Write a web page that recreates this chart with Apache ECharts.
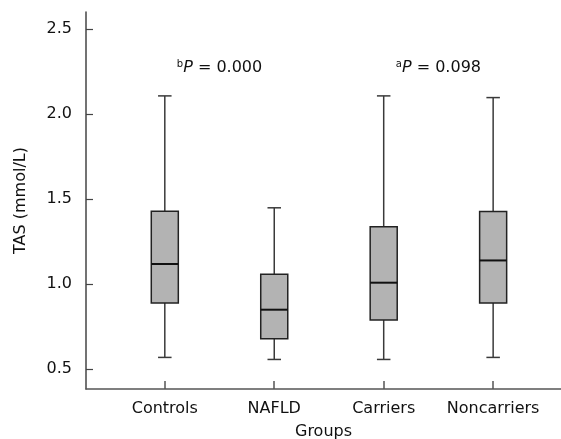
<!DOCTYPE html>
<html>
<head>
<meta charset="utf-8">
<script src="https://cdn.jsdelivr.net/npm/echarts@6/dist/echarts.min.js"></script>
<style>
html,body{margin:0;padding:0;background:#fff;}
#chart{width:561px;height:439px;}
</style>
</head>
<body>
<div id="chart"></div>
<script>
var categories = ['Controls', 'NAFLD', 'Carriers', 'Noncarriers'];
var whiskerLow = [0.568, 0.556, 0.556, 0.568];
var q1Values = [0.888, 0.678, 0.788, 0.888];
var medians = [1.118, 0.849, 1.008, 1.139];
var q3Values = [1.429, 1.057, 1.337, 1.427];
var whiskerHigh = [2.108, 1.449, 2.108, 2.098];
var yTicks = [0.5, 1.0, 1.5, 2.0, 2.5];
var annotations = [
  { x: 0.5, y: 2.272, sup: 'b', text: ' = 0.000' },
  { x: 2.5, y: 2.272, sup: 'a', text: ' = 0.098' }
];

var boxData = categories.map(function (c, i) {
  return [i, whiskerLow[i], q1Values[i], medians[i], q3Values[i], whiskerHigh[i]];
});
var annData = annotations.map(function (a) { return [a.x, a.y]; });

var FONT = 'DejaVu Sans';
var TXT = '#111';
var chart = echarts.init(document.getElementById('chart'), null, { renderer: 'canvas' });

chart.setOption({
  animation: false,
  backgroundColor: '#fff',
  grid: { left: 86, right: 0, top: 12, bottom: 50, containLabel: false, outerBoundsMode: 'none' },
  xAxis: {
    type: 'value',
    min: -0.72,
    max: 3.62,
    name: 'Groups',
    nameLocation: 'middle',
    nameGap: 35,
    nameTextStyle: { fontFamily: FONT, fontSize: 16, color: TXT },
    splitLine: { show: false },
    axisLine: { show: true, onZero: false, lineStyle: { color: '#555', width: 1.5 } },
    axisTick: { show: true, inside: true, length: 8, lineStyle: { color: '#555', width: 1.5 }, customValues: [0, 1, 2, 3] },
    axisLabel: {
      customValues: [0, 1, 2, 3],
      margin: 12,
      fontFamily: FONT, fontSize: 16, color: TXT,
      formatter: function (v) { return categories[Math.round(v)]; }
    }
  },
  yAxis: {
    type: 'value',
    min: 0.382,
    max: 2.602,
    name: 'TAS (mmol/L)',
    nameLocation: 'middle',
    nameGap: 57,
    nameTextStyle: { fontFamily: FONT, fontSize: 16, color: TXT },
    splitLine: { show: false },
    axisLine: { show: true, onZero: false, lineStyle: { color: '#444', width: 1.5 } },
    axisTick: { show: true, inside: true, length: 7, lineStyle: { color: '#444', width: 1.2 }, customValues: yTicks },
    axisLabel: {
      customValues: yTicks,
      margin: 14,
      fontFamily: FONT, fontSize: 16, color: TXT,
      formatter: function (v) { return v.toFixed(1); }
    }
  },
  series: [
    {
      type: 'custom',
      data: boxData,
      renderItem: function (params, api) {
        var x = api.value(0);
        var pMin = api.coord([x, api.value(1)]);
        var pQ1 = api.coord([x, api.value(2)]);
        var pMed = api.coord([x, api.value(3)]);
        var pQ3 = api.coord([x, api.value(4)]);
        var pMax = api.coord([x, api.value(5)]);
        var bw = api.size([1, 0])[0] * 0.247;
        var half = bw / 2, cap = bw / 4;
        var cx = pMin[0];
        var wStyle = { stroke: '#3a3a3a', lineWidth: 1.5 };
        return {
          type: 'group',
          children: [
            { type: 'line', shape: { x1: cx, y1: pMax[1], x2: cx, y2: pQ3[1] }, style: wStyle },
            { type: 'line', shape: { x1: cx, y1: pQ1[1], x2: cx, y2: pMin[1] }, style: wStyle },
            { type: 'line', shape: { x1: cx - cap, y1: pMax[1], x2: cx + cap, y2: pMax[1] }, style: wStyle },
            { type: 'line', shape: { x1: cx - cap, y1: pMin[1], x2: cx + cap, y2: pMin[1] }, style: wStyle },
            { type: 'rect', shape: { x: cx - half, y: pQ3[1], width: bw, height: pQ1[1] - pQ3[1] },
              style: { fill: '#b3b3b3', stroke: '#222', lineWidth: 1.5 } },
            { type: 'line', shape: { x1: cx - half, y1: pMed[1], x2: cx + half, y2: pMed[1] },
              style: { stroke: '#111', lineWidth: 2 } }
          ]
        };
      }
    },
    {
      type: 'custom',
      data: annData,
      silent: true,
      renderItem: function (params, api) {
        var p = api.coord([api.value(0), api.value(1)]);
        var a = annotations[params.dataIndex];
        return {
          type: 'text',
          x: p[0], y: p[1],
          style: {
            text: '{sup|' + a.sup + '}{it|P}{n|' + a.text + '}',
            align: 'center', verticalAlign: 'middle',
            fontFamily: FONT, fontSize: 16, fill: TXT,
            rich: {
              sup: { fontFamily: FONT, fontSize: 10, verticalAlign: 'top', lineHeight: 10, fill: TXT },
              it: { fontFamily: FONT, fontSize: 16, fontStyle: 'italic', lineHeight: 18, fill: TXT },
              n: { fontFamily: FONT, fontSize: 16, lineHeight: 18, fill: TXT }
            }
          }
        };
      }
    }
  ]
});
</script>
</body>
</html>
